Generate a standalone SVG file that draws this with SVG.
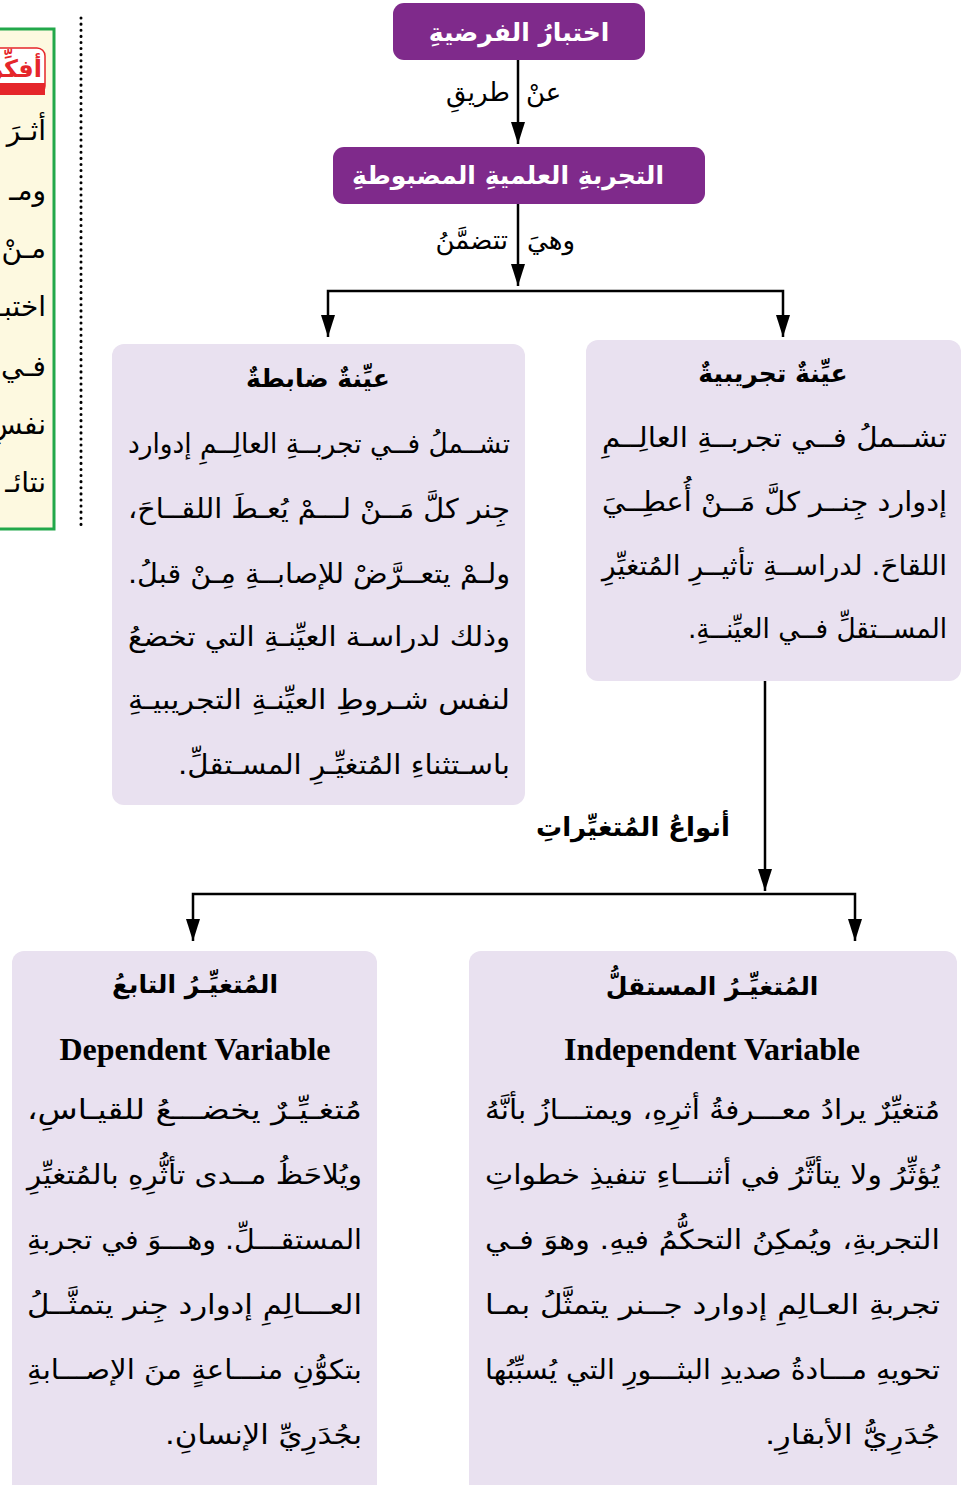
<svg xmlns="http://www.w3.org/2000/svg" width="962" height="1485" viewBox="0 0 962 1485">
<defs>
<marker id="ah" markerWidth="22" markerHeight="14" refX="22" refY="7" orient="auto-start-reverse" markerUnits="userSpaceOnUse" viewBox="0 0 22 14">
<path d="M0,0 L22,7 L0,14 Z" fill="#000"/>
</marker>
<clipPath id="sideclip"><rect x="0" y="0" width="56" height="540"/></clipPath>
</defs>
<style>
.hdr{fill:#7f2a8b}
.hdrt{font-family:'DejaVu Sans',sans-serif;font-size:25px;font-weight:bold;fill:#fff;text-anchor:middle;direction:rtl}
.box{fill:#e9e1f0}
.ttl{font-family:'DejaVu Sans',sans-serif;font-size:25px;font-weight:bold;fill:#000;text-anchor:middle;direction:rtl}
.ar{font-family:'DejaVu Sans',sans-serif;font-size:27px;fill:#000;direction:rtl;text-anchor:start}
.sd{font-family:'DejaVu Sans',sans-serif;font-size:28px;fill:#000;direction:rtl;text-anchor:start}
.lbl{font-family:'DejaVu Sans',sans-serif;font-size:26px;fill:#000}
.en{font-family:'Liberation Serif',serif;font-size:32px;font-weight:bold;fill:#000;text-anchor:middle}
.con{fill:none;stroke:#000;stroke-width:2.5}
</style>
<rect width="962" height="1485" fill="#fff"/>

<g id="sidebar">
<g clip-path="url(#sideclip)">
<rect x="-40" y="29" width="94" height="500" fill="#fdf9e0" stroke="#22a84a" stroke-width="3"/>
<rect x="-30" y="48" width="75" height="46" rx="8" fill="#fff" stroke="#e5262a" stroke-width="1.5"/>
<rect x="-30" y="83" width="75" height="12" fill="#e5262a"/>
<text x="42" y="77" style="font-family:'DejaVu Sans',sans-serif;font-size:24px;font-weight:bold;fill:#e5262a;direction:rtl;text-anchor:start">أفكِّر</text>
<text class="sd" x="46" y="140">أثـرَ</text>
<text class="sd" x="46" y="200">ومـ</text>
<text class="sd" x="46" y="258">مـنْ</text>
<text class="sd" x="46" y="316">اختبـ</text>
<text class="sd" x="46" y="376">فـي</text>
<text class="sd" x="46" y="434">نفسِ</text>
<text class="sd" x="46" y="492">نتائـ</text>
</g>
</g>
<line x1="81" y1="18" x2="81" y2="528" stroke="#000" stroke-width="3" stroke-dasharray="0.1 6" stroke-linecap="round"/>

<g id="connectors">
<line class="con" x1="518" y1="60" x2="518" y2="144" marker-end="url(#ah)"/>
<line class="con" x1="518" y1="204" x2="518" y2="286" marker-end="url(#ah)"/>
<polyline class="con" points="328,337 328,291 783,291 783,337" marker-start="url(#ah)" marker-end="url(#ah)"/>
<line class="con" x1="765" y1="681" x2="765" y2="891" marker-end="url(#ah)"/>
<polyline class="con" points="193,941 193,894 855,894 855,941" marker-start="url(#ah)" marker-end="url(#ah)"/>
<text class="lbl" x="526" y="101" text-anchor="start">عنْ</text>
<text class="lbl" x="510" y="101" text-anchor="end">طريقِ</text>
<text class="lbl" x="527" y="249" text-anchor="start">وهيَ</text>
<text class="lbl" x="508" y="249" text-anchor="end">تتضمَّنُ</text>
<text class="lbl" x="730" y="836" text-anchor="end" font-weight="bold" font-size="25">أنواعُ المُتغيِّراتِ</text>
</g>

<g id="node-hypothesis">
<rect class="hdr" x="393" y="3" width="252" height="57" rx="11"/>
<text class="hdrt" x="519" y="41">اختبارُ الفرضيةِ</text>
</g>

<g id="node-experiment">
<rect class="hdr" x="333" y="147" width="372" height="57" rx="11"/>
<text class="hdrt" x="508" y="184">التجربةِ العلميةِ المضبوطةِ</text>
</g>

<g id="node-control">
<rect class="box" x="112" y="344" width="413" height="461" rx="12"/>
<text class="ttl" x="318" y="387">عيِّنةٌ ضابطةٌ</text>
<text class="ar" x="510" y="453" textLength="382" lengthAdjust="spacingAndGlyphs">تشــملُ فــي تجربــةِ العالِــمِ إدوارد</text>
<text class="ar" x="510" y="518" textLength="382" lengthAdjust="spacingAndGlyphs">جِنر كلَّ مَــنْ لـــمْ يُعـطَ اللقــاحَ،</text>
<text class="ar" x="510" y="583" textLength="382" lengthAdjust="spacingAndGlyphs">ولـمْ يتعــرَّضْ للإصابــةِ مِـنْ قبلُ.</text>
<text class="ar" x="510" y="646" textLength="382" lengthAdjust="spacingAndGlyphs">وذلك لدراسـة العيِّنـةِ التي تخضعُ</text>
<text class="ar" x="510" y="709" textLength="382" lengthAdjust="spacingAndGlyphs">لنفس شـروطِ العيِّنـةِ التجريبيـةِ</text>
<text class="ar" x="510" y="774" textLength="332" lengthAdjust="spacingAndGlyphs">باسـتثناءِ المُتغيِّـرِ المسـتقلِّ.</text>
</g>

<g id="node-experimental">
<rect class="box" x="586" y="340" width="375" height="341" rx="12"/>
<text class="ttl" x="773" y="382">عيِّنةٌ تجريبيةٌ</text>
<text class="ar" x="947" y="447" textLength="345" lengthAdjust="spacingAndGlyphs">تشــملُ فــي تجربــةِ العالِــمِ</text>
<text class="ar" x="947" y="511" textLength="345" lengthAdjust="spacingAndGlyphs">إدوارد جِنــر كلَّ مَــنْ أُعطِــيَ</text>
<text class="ar" x="947" y="575" textLength="345" lengthAdjust="spacingAndGlyphs">اللقاحَ. لدراســةِ تأثيــرِ المُتغيِّرِ</text>
<text class="ar" x="947" y="638" textLength="259" lengthAdjust="spacingAndGlyphs">المســتقلِّ فــي العيِّنــةِ.</text>
</g>

<g id="node-dependent">
<rect class="box" x="12" y="951" width="365" height="560" rx="12"/>
<text class="ttl" x="195" y="993">المُتغيِّـرُ التابعُ</text>
<text class="en" x="195" y="1060">Dependent Variable</text>
<text class="ar" x="362" y="1119" textLength="335" lengthAdjust="spacingAndGlyphs">مُتغـيِّـرٌ يخضـــعُ للقيـاسِ،</text>
<text class="ar" x="362" y="1184" textLength="335" lengthAdjust="spacingAndGlyphs">ويُلاحَظُ مــدى تأثُّرِهِ بالمُتغيِّرِ</text>
<text class="ar" x="362" y="1249" textLength="335" lengthAdjust="spacingAndGlyphs">المستقـــلِّ. وهـــوَ في تجربةِ</text>
<text class="ar" x="362" y="1314" textLength="335" lengthAdjust="spacingAndGlyphs">العـــالِمِ إدوارد جِنر يتمثَّــلُ</text>
<text class="ar" x="362" y="1379" textLength="335" lengthAdjust="spacingAndGlyphs">بتكوُّنِ منـــاعةٍ منَ الإصـــابةِ</text>
<text class="ar" x="362" y="1444" textLength="197" lengthAdjust="spacingAndGlyphs">بجُدَرِيِّ الإنسانِ.</text>
</g>

<g id="node-independent">
<rect class="box" x="469" y="951" width="488" height="560" rx="12"/>
<text class="ttl" x="712" y="995">المُتغيِّـرُ المستقلُّ</text>
<text class="en" x="712" y="1060">Independent Variable</text>
<text class="ar" x="940" y="1119" textLength="455" lengthAdjust="spacingAndGlyphs">مُتغيِّرٌ يرادُ معـــرفةُ أثرِهِ، ويمتـــازُ بأنَّهُ</text>
<text class="ar" x="940" y="1184" textLength="455" lengthAdjust="spacingAndGlyphs">يُؤثِّرُ ولا يتأثَّرُ في أثنـــاءِ تنفيذِ خطواتِ</text>
<text class="ar" x="940" y="1249" textLength="455" lengthAdjust="spacingAndGlyphs">التجربةِ، ويُمكِنُ التحكُّمُ فيهِ. وهوَ فـي</text>
<text class="ar" x="940" y="1314" textLength="455" lengthAdjust="spacingAndGlyphs">تجربةِ العـالِمِ إدوارد جــنر يتمثَّلُ بمـا</text>
<text class="ar" x="940" y="1379" textLength="455" lengthAdjust="spacingAndGlyphs">تحويهِ مـــادةُ صديدِ البثـــورِ التي يُسبِّبُها</text>
<text class="ar" x="940" y="1444" textLength="175" lengthAdjust="spacingAndGlyphs">جُدَرِيُّ الأبقارِ.</text>
</g>
</svg>
